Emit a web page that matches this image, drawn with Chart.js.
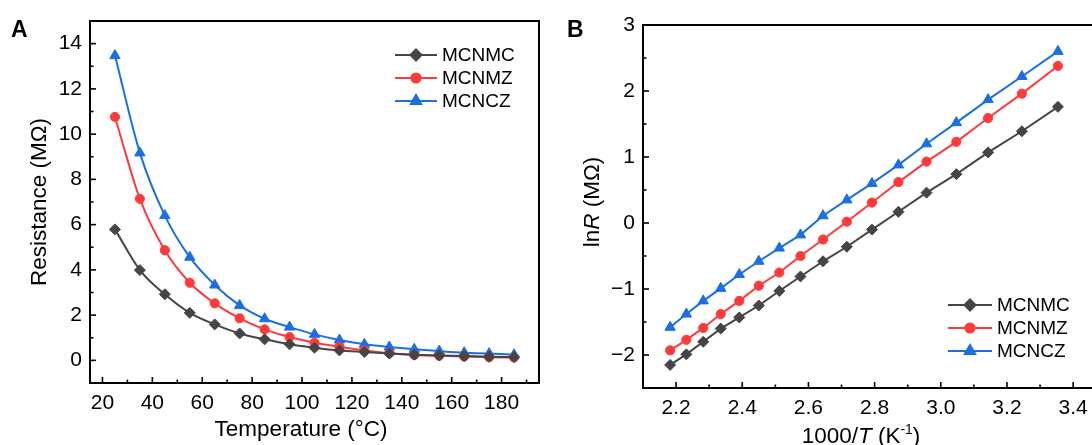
<!DOCTYPE html>
<html>
<head>
<meta charset="utf-8">
<script src="https://cdn.jsdelivr.net/npm/chart.js@4.4.1/dist/chart.umd.min.js"></script>
<style>
  html, body { margin: 0; padding: 0; background: #fff; overflow: hidden; }
  #wrap { position: relative; width: 1092px; height: 445px; overflow: hidden; }
  canvas { position: absolute; top: 0; }
  #chartA { left: 0; }
  #chartB { left: 560px; }
</style>
</head>
<body>
<div id="wrap">
  <canvas id="chartA" width="555" height="445"></canvas>
  <canvas id="chartB" width="540" height="445"></canvas>
</div>
<script>
// Panel A : resistance vs temperature
const temps = [25, 35, 45, 55, 65, 75, 85, 95, 105, 115, 125, 135, 145, 155, 165, 175, 185];
const resMCNMC = [5.79, 3.99, 2.92, 2.10, 1.59, 1.19, 0.93, 0.71, 0.56, 0.44, 0.37, 0.30, 0.25, 0.22, 0.19, 0.16, 0.15];
const resMCNMZ = [10.76, 7.14, 4.87, 3.43, 2.52, 1.86, 1.37, 1.03, 0.78, 0.60, 0.44, 0.32, 0.24, 0.20, 0.17, 0.14, 0.13];
const resMCNCZ = [13.47, 9.17, 6.40, 4.56, 3.33, 2.43, 1.84, 1.47, 1.15, 0.90, 0.71, 0.59, 0.49, 0.41, 0.34, 0.30, 0.25];

// Panel B : lnR vs 1000/T
const invT = [3.354, 3.245, 3.143, 3.047, 2.957, 2.872, 2.792, 2.716, 2.644, 2.576, 2.512, 2.450, 2.391, 2.335, 2.282, 2.231, 2.182];
const lnMCNMC = [1.76, 1.39, 1.07, 0.74, 0.46, 0.17, -0.10, -0.36, -0.58, -0.81, -1.03, -1.25, -1.43, -1.60, -1.80, -1.99, -2.15];
const lnMCNMZ = [2.38, 1.96, 1.59, 1.23, 0.93, 0.62, 0.31, 0.02, -0.25, -0.50, -0.75, -0.95, -1.18, -1.38, -1.59, -1.77, -1.93];
const lnMCNCZ = [2.60, 2.22, 1.87, 1.52, 1.20, 0.88, 0.60, 0.35, 0.11, -0.18, -0.38, -0.58, -0.78, -0.99, -1.18, -1.38, -1.58];

const seriesNames = ["MCNMC", "MCNMZ", "MCNCZ"];
const xTicksA = [20, 40, 60, 80, 100, 120, 140, 160, 180];
const yTicksA = [0, 2, 4, 6, 8, 10, 12, 14];
const xTicksB = [2.2, 2.4, 2.6, 2.8, 3.0, 3.2, 3.4];
const yTicksB = [-2, -1, 0, 1, 2, 3];

const FONT = "'Liberation Sans', Arial, Helvetica, sans-serif";
Chart.defaults.font.family = FONT;
Chart.defaults.color = "#000";

const styles = [
  { color: "#454545", pointStyle: "rectRot", radius: 5.5 },
  { color: "#ff3a3a", pointStyle: "circle", radius: 4.6 },
  { color: "#1a6fe3", pointStyle: "triangle", radius: 6 },
];

function makeSets(xs, ys, smooth) {
  return ys.map((arr, i) => ({
    label: seriesNames[i],
    data: xs.map((x, j) => ({ x: x, y: arr[j] })),
    borderColor: styles[i].color,
    backgroundColor: styles[i].color,
    pointBackgroundColor: styles[i].color,
    pointBorderColor: styles[i].color,
    pointStyle: styles[i].pointStyle,
    pointRadius: styles[i].radius,
    pointBorderWidth: 1,
    borderWidth: 2,
    cubicInterpolationMode: smooth ? "monotone" : "default",
    tension: 0,
  }));
}

// draws text made of parts (normal / italic / superscript), centred on x
function drawRich(ctx, parts, x, y, size, rotate) {
  ctx.save();
  ctx.translate(x, y);
  if (rotate) ctx.rotate(-Math.PI / 2);
  const fontOf = p => (p.italic ? "italic " : "") + (p.sup ? size * 0.62 : size) + "px " + FONT;
  let total = 0;
  parts.forEach(p => { ctx.font = fontOf(p); p.w = ctx.measureText(p.t).width; total += p.w; });
  let cx = -total / 2;
  ctx.fillStyle = "#000";
  ctx.textAlign = "left";
  ctx.textBaseline = "alphabetic";
  parts.forEach(p => {
    ctx.font = fontOf(p);
    ctx.fillText(p.t, cx, p.sup ? -size * 0.4 : 0);
    cx += p.w;
  });
  ctx.restore();
}

// frame, inward ticks, titles, legend and panel letter
const decor = {
  id: "decor",
  afterDatasetsDraw(chart, args, o) {
    const { ctx, chartArea: a, scales: { x, y } } = chart;
    ctx.save();
    ctx.strokeStyle = "#000";
    ctx.lineWidth = 1.6;
    const tickLine = (x1, y1, x2, y2) => { ctx.beginPath(); ctx.moveTo(x1, y1); ctx.lineTo(x2, y2); ctx.stroke(); };
    const minors = (vals, sc) => {
      const step = vals[1] - vals[0];
      const out = [vals[0] - step / 2];
      for (let i = 0; i < vals.length; i++) out.push(vals[i] + step / 2);
      return out.filter(v => v >= sc.min - 1e-9 && v <= sc.max + 1e-9);
    };
    o.xTicks.forEach(v => { const p = x.getPixelForValue(v); tickLine(p, a.bottom, p, a.bottom - 6); });
    minors(o.xTicks, x).forEach(v => { const p = x.getPixelForValue(v); tickLine(p, a.bottom, p, a.bottom - 3.5); });
    o.yTicks.forEach(v => { const p = y.getPixelForValue(v); tickLine(a.left, p, a.left + 6, p); });
    minors(o.yTicks, y).forEach(v => { const p = y.getPixelForValue(v); tickLine(a.left, p, a.left + 3.5, p); });
    ctx.lineWidth = 2;
    ctx.strokeRect(a.left, a.top, a.right - a.left, a.bottom - a.top);

    // legend
    chart.data.datasets.forEach((ds, i) => {
      const ly = o.legend.y + i * o.legend.gap;
      ctx.strokeStyle = ds.borderColor;
      ctx.lineWidth = 2;
      tickLine(o.legend.x1, ly, o.legend.x2, ly);
      ctx.fillStyle = ds.pointBackgroundColor;
      Chart.helpers.drawPoint(ctx, { pointStyle: ds.pointStyle, radius: ds.pointRadius, borderWidth: 1, rotation: 0 },
        (o.legend.x1 + o.legend.x2) / 2, ly);
      ctx.fill();
      ctx.fillStyle = "#000";
      ctx.font = "19px " + FONT;
      ctx.textAlign = "left";
      ctx.textBaseline = "middle";
      ctx.fillText(ds.label, o.legend.tx, ly + 1);
    });

    // panel letter
    ctx.fillStyle = "#000";
    ctx.font = "bold 23px " + FONT;
    ctx.textAlign = "left";
    ctx.textBaseline = "alphabetic";
    ctx.fillText(o.letter.t, o.letter.x, o.letter.y);
    ctx.restore();

    drawRich(ctx, o.xTitle.parts, o.xTitle.x, o.xTitle.y, 22.5, false);
    drawRich(ctx, o.yTitle.parts, o.yTitle.x, o.yTitle.y, 22.5, true);
  }
};

function axis(min, max, ticks, fixSize, horizontal, fmt) {
  return {
    type: "linear",
    min: min,
    max: max,
    grid: { display: false, drawTicks: false },
    border: { display: false },
    afterBuildTicks: s => { s.ticks = ticks.map(v => ({ value: v })); },
    afterFit: s => { if (horizontal) s.height = fixSize; else s.width = fixSize; },
    ticks: {
      autoSkip: false,
      maxRotation: 0,
      padding: 8,
      font: { size: 21 },
      color: "#000",
      callback: fmt,
    },
  };
}

new Chart(document.getElementById("chartA"), {
  type: "line",
  data: { datasets: makeSets(temps, [resMCNMC, resMCNMZ, resMCNCZ], true) },
  options: {
    responsive: false,
    animation: false,
    layout: { padding: { top: 21, right: 16, left: 0, bottom: 0 } },
    scales: {
      x: axis(15, 195, xTicksA, 62, true, v => String(v)),
      y: axis(-1, 15, yTicksA, 90, false, v => String(v)),
    },
    plugins: {
      legend: { display: false },
      tooltip: { enabled: false },
      decor: {
        xTicks: xTicksA, yTicks: yTicksA,
        legend: { x1: 395, x2: 437, tx: 442, y: 55, gap: 23 },
        letter: { t: "A", x: 11, y: 37 },
        xTitle: { x: 301, y: 436, parts: [{ t: "Temperature (°C)" }] },
        yTitle: { x: 46, y: 202, parts: [{ t: "Resistance (MΩ)" }] },
      },
    },
  },
  plugins: [decor],
});

new Chart(document.getElementById("chartB"), {
  type: "line",
  data: { datasets: makeSets(invT, [lnMCNMC, lnMCNMZ, lnMCNCZ], false) },
  options: {
    responsive: false,
    animation: false,
    layout: { padding: { top: 25, right: 3, left: 0, bottom: 0 } },
    scales: {
      x: axis(2.1, 3.46, xTicksB, 57, true, v => Number(v).toFixed(1)),
      y: axis(-2.5, 3, yTicksB, 83, false, v => (v < 0 ? "\u2212" + Math.abs(v) : String(v))),
    },
    plugins: {
      legend: { display: false },
      tooltip: { enabled: false },
      decor: {
        xTicks: xTicksB, yTicks: yTicksB,
        legend: { x1: 388, x2: 432, tx: 437, y: 305, gap: 23 },
        letter: { t: "B", x: 7, y: 37 },
        xTitle: { x: 301, y: 443, parts: [{ t: "1000/" }, { t: "T", italic: true }, { t: " (K" }, { t: "-1", sup: true }, { t: ")" }] },
        yTitle: { x: 39, y: 202, parts: [{ t: "ln" }, { t: "R", italic: true }, { t: " (MΩ)" }] },
      },
    },
  },
  plugins: [decor],
});
</script>
</body>
</html>
